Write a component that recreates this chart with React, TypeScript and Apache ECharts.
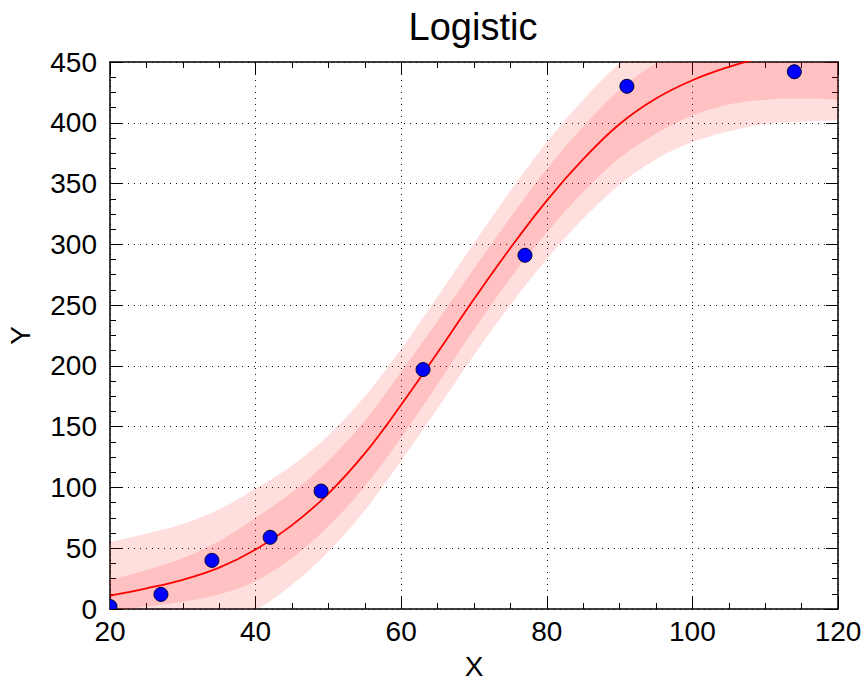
import React, { useEffect, useRef } from 'react';
import * as echarts from 'echarts';

// Sample positions along X for the fitted curve and its bands
const xs = [20, 25, 30, 35, 40, 45, 50, 55, 60, 65, 70, 75, 80, 85, 90, 95, 100, 105, 110, 115, 120];
// Fitted logistic curve
const fitY = [11, 17, 24, 34, 49, 69, 95, 128, 168, 211, 255, 297, 336, 370, 399, 420, 435, 446, 454, 459, 463];
// Inner band (confidence)
const innerUpper = [24, 32, 42, 56, 75, 96, 122, 155, 195, 237, 280, 322, 362, 397, 427, 449, 464, 477, 489, 498, 507];
const innerLower = [-2, 2, 6, 12, 23, 42, 68, 101, 141, 185, 230, 272, 310, 343, 371, 391, 406, 415, 419, 420, 419];
// Outer band (prediction)
const outerUpper = [55, 62, 70, 82, 99, 118, 143, 175, 214, 257, 301, 344, 384, 419, 449, 470, 486, 499, 509, 517, 524];
const outerLower = [-33, -28, -22, -14, -1, 20, 47, 81, 122, 165, 209, 250, 288, 321, 349, 370, 384, 393, 399, 401, 402];
// Observed data points
const pointX = [20, 27, 34, 42, 49, 63, 77, 91, 114];
const pointY = [2, 12, 40, 59, 97, 197, 291, 430, 442];

const FONT = '"Liberation Sans", Arial, Helvetica, sans-serif';

// Catmull-Rom smoothing of already-projected pixel points (rendering only)
function smoothPts(pts: number[][], steps = 10): number[][] {
  const out: number[][] = [];
  const n = pts.length;
  for (let i = 0; i < n - 1; i++) {
    const p0 = pts[Math.max(i - 1, 0)];
    const p1 = pts[i];
    const p2 = pts[i + 1];
    const p3 = pts[Math.min(i + 2, n - 1)];
    for (let s = 0; s < steps; s++) {
      const t = s / steps;
      const t2 = t * t;
      const t3 = t2 * t;
      const f = (a: number, b: number, c: number, d: number) =>
        0.5 * (2 * b + (-a + c) * t + (2 * a - 5 * b + 4 * c - d) * t2 + (-a + 3 * b - 3 * c + d) * t3);
      out.push([f(p0[0], p1[0], p2[0], p3[0]), f(p0[1], p1[1], p2[1], p3[1])]);
    }
  }
  out.push(pts[n - 1]);
  return out;
}

function bandSeries(upper: number[], lower: number[], color: string) {
  return {
    type: 'custom',
    clip: true,
    z: 1,
    silent: true,
    encode: { x: 0, y: 1 },
    data: [[70, 200]],
    renderItem: (params: any, api: any) => {
      const up = xs.map((x, i) => api.coord([x, upper[i]]));
      const lo = xs.map((x, i) => api.coord([x, lower[i]]));
      const pts = smoothPts(up).concat(smoothPts(lo).reverse());
      return { type: 'polygon', shape: { points: pts }, style: { fill: color } };
    },
  };
}

export default function App() {
  const ref = useRef<HTMLDivElement>(null);
  useEffect(() => {
    if (!ref.current) return;
    const chart = echarts.init(ref.current, null, { renderer: 'svg' });
    const tickCommon = {
      axisLine: { show: true, onZero: false, lineStyle: { color: '#000', width: 1.5 } },
      axisTick: { show: true, inside: true, length: 12, lineStyle: { color: '#000', width: 1 } },
      minorTick: { show: true, splitNumber: 4, length: 6, lineStyle: { color: '#000', width: 1 } },
    };
    const grid = { show: true, lineStyle: { color: '#111', width: 1, type: [1, 5] } };
    const bandColor = 'rgba(255,0,0,0.13)';
    const option: any = {
      animation: false,
      backgroundColor: '#fff',
      title: {
        text: 'Logistic',
        left: 468,
        textAlign: 'center',
        top: 3,
        textStyle: { fontFamily: FONT, fontSize: 38, fontWeight: 'normal', color: '#000' },
      },
      grid: { left: 110, top: 62, right: 27, bottom: 72, containLabel: false, outerBoundsMode: 'none' },
      xAxis: [
        {
          type: 'value', min: 20, max: 120, interval: 20, position: 'bottom',
          name: 'X', nameLocation: 'middle', nameGap: 43,
          nameTextStyle: { fontFamily: FONT, fontSize: 28, color: '#000' },
          axisLabel: { fontFamily: FONT, fontSize: 28, color: '#000', margin: 8 },
          splitLine: grid,
          ...tickCommon,
        },
        {
          type: 'value', min: 20, max: 120, interval: 20, position: 'top',
          axisLabel: { show: false }, splitLine: { show: false },
          ...tickCommon,
        },
      ],
      yAxis: [
        {
          type: 'value', min: 0, max: 450, interval: 50, position: 'left',
          name: 'Y', nameLocation: 'middle', nameGap: 76,
          nameTextStyle: { fontFamily: FONT, fontSize: 28, color: '#000' },
          axisLabel: { fontFamily: FONT, fontSize: 28, color: '#000', margin: 13 },
          splitLine: grid,
          ...tickCommon,
        },
        {
          type: 'value', min: 0, max: 450, interval: 50, position: 'right',
          axisLabel: { show: false }, splitLine: { show: false },
          ...tickCommon,
        },
      ],
      series: [
        bandSeries(outerUpper, outerLower, bandColor),
        bandSeries(innerUpper, innerLower, bandColor),
        {
          type: 'line', smooth: 0.4, symbol: 'none', z: 2,
          data: xs.map((x, i) => [x, fitY[i]]),
          lineStyle: { color: '#ff0000', width: 1.8 },
        },
        {
          type: 'custom', clip: true, z: 3,
          encode: { x: 0, y: 1 },
          data: pointX.map((x, i) => [x, pointY[i]]),
          renderItem: (params: any, api: any) => {
            const p = api.coord([api.value(0), api.value(1)]);
            return {
              type: 'circle',
              shape: { cx: p[0], cy: p[1], r: 7 },
              style: { fill: '#0000ff', stroke: '#000033', lineWidth: 1 },
            };
          },
        },
      ],
    };
    chart.setOption(option);
    return () => chart.dispose();
  }, []);
  return (
    <div
      ref={ref}
      style={{ position: 'fixed', left: 0, top: 0, width: 865, height: 681, background: '#fff' }}
    />
  );
}
